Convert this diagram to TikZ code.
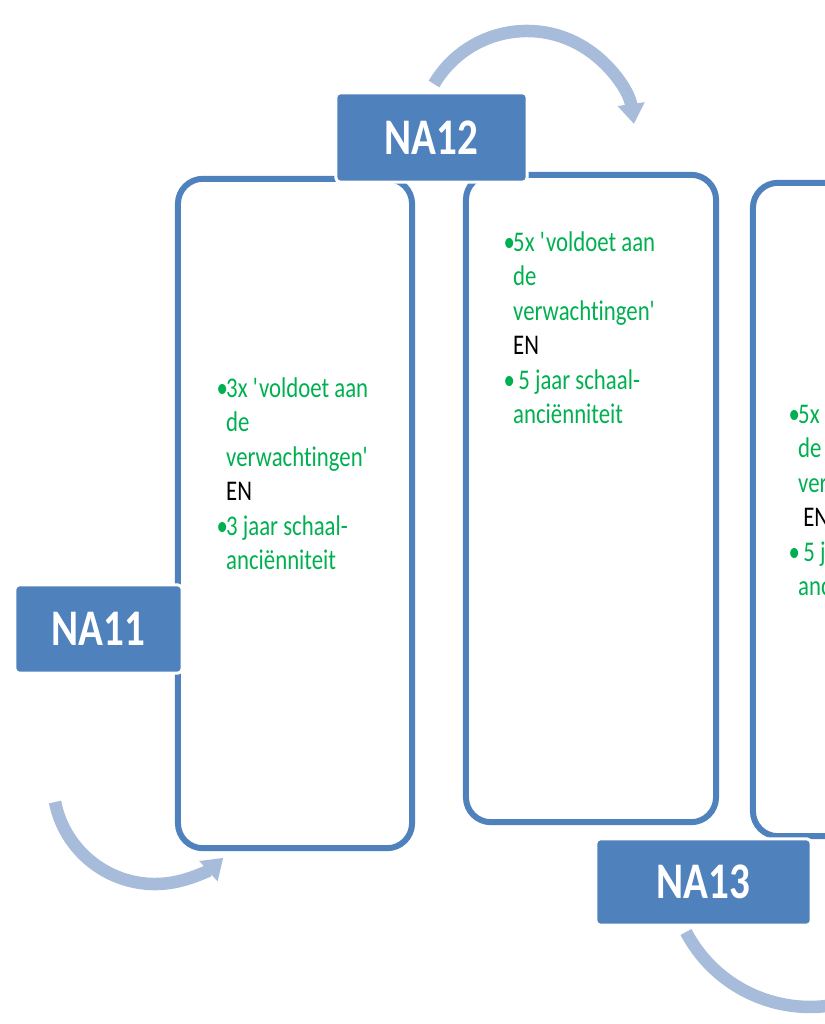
\documentclass[tikz,border=0pt]{standalone}
\usepackage{fontspec}
\setmainfont{Carlito}[FakeStretch=0.8,Ligatures={NoCommon}]
\usetikzlibrary{arrows.meta,positioning}
\definecolor{nablue}{RGB}{79,129,189}
\definecolor{naflow}{RGB}{167,188,218}
\definecolor{nagreen}{RGB}{0,176,80}
\newcommand{\bul}{\makebox[0.095cm][l]{\textbullet}}
\newcommand{\q}{\textquotesingle}

\begin{document}
\begin{tikzpicture}[x=0.01cm,y=-0.01cm,
  box/.style={draw=nablue,line width=0.06cm,rounded corners=0.25cm,inner sep=0pt},
  lab/.style={fill=nablue,draw=white,line width=0.03cm,rounded corners=0.04cm,text=white,inner sep=0pt,font=\fontsize{14.6}{17}\selectfont\bfseries},
  txt/.style={anchor=base west,inner sep=0pt,text=nagreen,font=\fontsize{8.1}{9.82}\selectfont},
  flow/.style={draw=naflow,line width=0.125cm,-{Triangle[width=0.26cm,length=0.2cm]}}]
\useasboundingbox (0,0) rectangle (825,1024);
\clip (0,0) rectangle (825,1024);
\node[box,minimum width=2.34cm,minimum height=6.69cm] (b1) at (295,513.5) {};
\node[box,minimum width=2.50cm,minimum height=6.47cm] (b2) at (591,498.5) {};
\node[box,minimum width=2.47cm,minimum height=6.53cm] (b3) at (876.5,509.5) {};
\node[lab,minimum width=1.67cm,minimum height=0.88cm] (na11) at (98.5,629) {NA11};
\node[lab,minimum width=1.91cm,minimum height=0.89cm] (na12) at (431.5,137.5) {NA12};
\node[lab,minimum width=2.15cm,minimum height=0.86cm] (na13) at (703.5,882) {NA13};
\node[txt] (t1) at (216,397) {\begin{tabular}[t]{@{}l@{}l@{}}
\bul & 3x \q voldoet aan\\
 & de\\
 & verwachtingen\q\\
 & \textcolor{black}{EN}\\
\bul & 3 jaar schaal-\\
 & anciënniteit
\end{tabular}};
\node[txt] (t2) at (503,251) {\begin{tabular}[t]{@{}l@{}l@{}}
\bul & 5x \q voldoet aan\\
 & de\\
 & verwachtingen\q\\
 & \textcolor{black}{EN}\\
\bul & \ 5 jaar schaal-\\
 & anciënniteit
\end{tabular}};
\node[txt] (t3) at (788,423) {\begin{tabular}[t]{@{}l@{}l@{}}
\bul & 5x \q voldoet aan\\
 & de\\
 & verwachtingen\q\\
 & \ \textcolor{black}{EN}\\
\bul & \ 5 jaar schaal-\\
 & anciënniteit
\end{tabular}};
\coordinate (f1) at (434,84);
\coordinate (f2) at (55,802);
\coordinate (f3) at (686,932);
\draw[flow] (f1) arc[start angle=-149.4,end angle=-8,radius=108];
\draw[flow] (f2) arc[start angle=168.7,end angle=48,radius=102];
\draw[flow] (f3) arc[start angle=152.3,end angle=25,radius=140];
\end{tikzpicture}
\end{document}
